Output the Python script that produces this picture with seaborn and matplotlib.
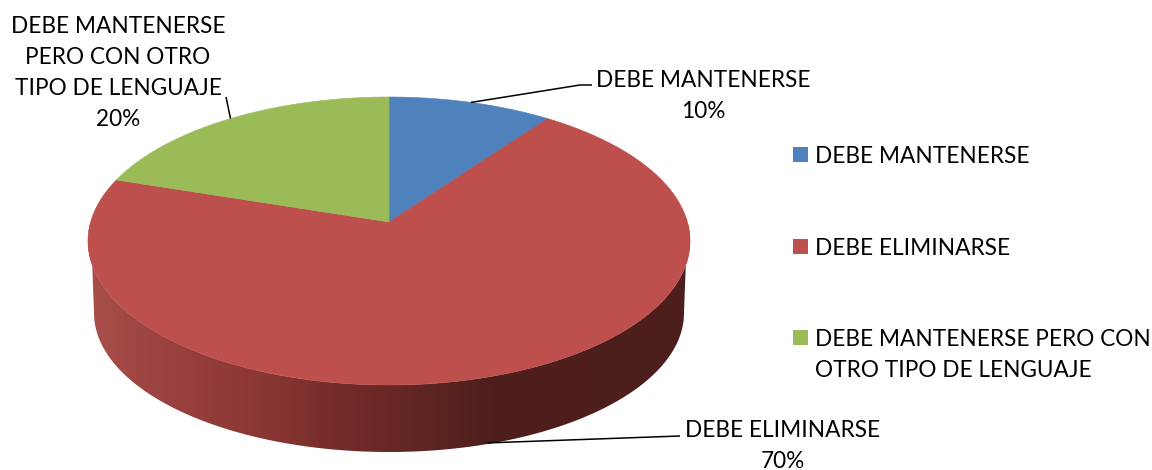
#!/usr/bin/env python3
import numpy as np
import matplotlib
matplotlib.use("Agg")
import matplotlib.pyplot as plt
import seaborn as sns
from matplotlib.colors import LinearSegmentedColormap
from matplotlib.patches import Polygon, Rectangle

# ===== DATA =====
CATEGORIES = ["DEBE MANTENERSE", "DEBE ELIMINARSE", "DEBE MANTENERSE PERO CON OTRO TIPO DE LENGUAJE"]
VALUES = [10, 70, 20]
SLICE_LABELS = ["DEBE MANTENERSE", "DEBE ELIMINARSE", "DEBE MANTENERSE\nPERO CON OTRO\nTIPO DE LENGUAJE"]
LEGEND_LABELS = ["DEBE MANTENERSE", "DEBE ELIMINARSE", "DEBE MANTENERSE PERO CON\nOTRO TIPO DE LENGUAJE"]
COLORS = ["#4f81bd", "#bd4f4c", "#9bbb59"]

# ===== SETTINGS (pixel layout) =====
APEX = (389, 222)
HALF_W, DEPTH_A, PERSP = 298.4, 141.5, 0.132
BASE_CENTER, BASE_RX, BASE_RY = (389, 313), 295, 139
FONT_SIZE = 16.3
LINE_SPACING = 1.6
TEXT_DROP = 8.4  # top of text box to the middle of its first line
LABEL_POS = [(703, 78), (783, 428), (118, 24)]
LEADER_SHIFT = [(0, 0), (-7, 67), (0, 0)]  # red leader starts on the wall's lower rim
LEADER_ELBOW = [[(580, 85), (592, 85)], [(680, 436)], [(226, 97)]]
LEGEND_ROWS = [154.5, 246.5, 337.5]


def rim(frac):
    # pie fraction (clockwise from the top) -> point on the tilted top face
    theta = 2 * np.pi * np.asarray(frac)
    u, v = np.sin(theta), np.cos(theta)
    w = 1 + PERSP * v
    return APEX[0] + HALF_W * u / w, APEX[1] - DEPTH_A * v / w


sns.set_theme(style="white")
plt.rcParams["font.family"] = ["Lato", "DejaVu Sans"]
palette = sns.color_palette(COLORS)

fig, ax = plt.subplots(figsize=(11.52, 4.7), dpi=100)
ax.set_position([0, 0, 1, 1])
ax.axis("off")

# side wall with the dark-to-the-right shading
shade = LinearSegmentedColormap.from_list("wall", [
    (0.00, "#a94e4b"), (0.13, "#99423f"), (0.27, "#8d3836"), (0.42, "#742c29"),
    (0.60, "#592320"), (0.67, "#4e1f1d"), (1.00, "#4c1e1c"),
])
t = np.linspace(np.pi, 2 * np.pi, 200)
top_x, top_y = rim(np.linspace(0.25, 0.75, 200))
wall = np.column_stack([
    np.r_[BASE_CENTER[0] + BASE_RX * np.cos(t), top_x],
    np.r_[BASE_CENTER[1] - BASE_RY * np.sin(t), top_y],
])
patch = Polygon(wall, closed=True, facecolor="none", edgecolor="none")
ax.add_patch(patch)
im = ax.imshow(np.linspace(0, 1, 400)[None, :], cmap=shade, aspect="auto",
               extent=(88, 690, 460, 220), interpolation="bilinear")
im.set_clip_path(patch)

# top face
edges = np.cumsum([0] + VALUES) / sum(VALUES)
for i, val in enumerate(VALUES):
    xs, ys = rim(np.linspace(edges[i], edges[i + 1], 120))
    pts = np.column_stack([np.r_[APEX[0], xs], np.r_[APEX[1], ys]])
    ax.add_patch(Polygon(pts, closed=True, facecolor=palette[i], edgecolor=palette[i], lw=0.4, zorder=3))

# leader lines and data labels
for i, val in enumerate(VALUES):
    x0, y0 = rim((edges[i] + edges[i + 1]) / 2)
    xs = [x0 + LEADER_SHIFT[i][0]] + [p[0] for p in LEADER_ELBOW[i]]
    ys = [y0 + LEADER_SHIFT[i][1]] + [p[1] for p in LEADER_ELBOW[i]]
    ax.plot(xs, ys, color="black", lw=1.1, zorder=4, solid_capstyle="butt")
    ax.text(LABEL_POS[i][0], LABEL_POS[i][1] - TEXT_DROP, f"{SLICE_LABELS[i]}\n{val}%",
            ha="center", va="top", fontsize=FONT_SIZE, color="black",
            linespacing=LINE_SPACING, multialignment="center", zorder=5)

# legend
for i, (lab, row) in enumerate(zip(LEGEND_LABELS, LEGEND_ROWS)):
    ax.add_patch(Rectangle((793, row - 7.5), 15, 15, facecolor=palette[i], edgecolor="none"))
    ax.text(815, row - TEXT_DROP, lab, ha="left", va="top", fontsize=FONT_SIZE,
            color="black", linespacing=LINE_SPACING)

ax.set_xlim(0, 1152)
ax.set_ylim(470, 0)
fig.savefig("out.png", dpi=100, facecolor="white")
